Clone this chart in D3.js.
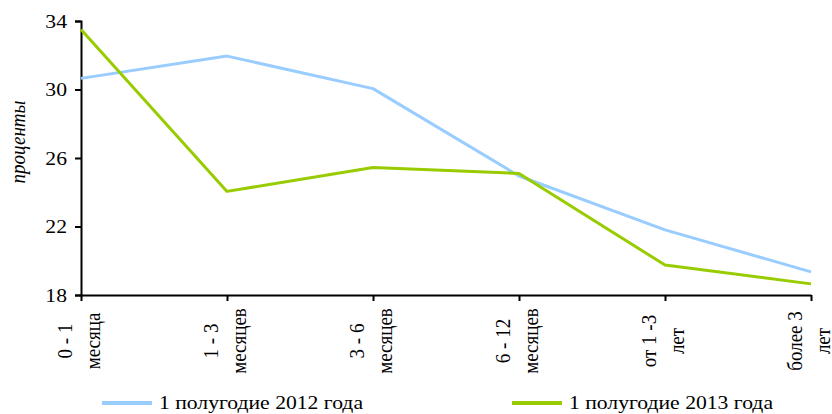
<!DOCTYPE html>
<html>
<head>
<meta charset="utf-8">
<script src="https://cdn.jsdelivr.net/npm/d3@7"></script>
<style>
  body { margin: 0; background: #fff; }
  svg text { font-family: "Liberation Serif", "Times New Roman", serif; fill: #000; }
</style>
</head>
<body>
<div class="js-chart"></div>
<script>
(function() {
  'use strict';

  /* ------------------------------------------------------------ *\
      Data
  \* ------------------------------------------------------------ */

  var categories = ['0-1', '1-3', '3-6', '6-12', '1-3y', '3y+'];
  var categoryLabels = [
    ['0 - 1', 'месяца'],
    ['1 - 3', 'месяцев'],
    ['3 - 6', 'месяцев'],
    ['6 - 12', 'месяцев'],
    ['от 1 -3', 'лет'],
    ['более 3', 'лет']
  ];
  var series2012 = [30.65, 31.95, 30.05, 24.95, 21.8, 19.35];
  var series2013 = [33.5, 24.05, 25.45, 25.1, 19.75, 18.65];
  var seriesNames = ['1 полугодие 2012 года', '1 полугодие 2013 года'];
  var yTicks = [18, 22, 26, 30, 34];
  var yTitle = 'проценты';

  /* ------------------------------------------------------------ *\
      Layout
  \* ------------------------------------------------------------ */

  var width = 832;
  var height = 414;
  var plotLeft = 81;
  var plotRight = 811;
  var plotTop = 21;
  var plotBottom = 295;
  var fontSize = 19;
  var stretch = 1.14;
  var blueColour = '#99ccff';
  var greenColour = '#99cc00';

  var svg = d3.select('.js-chart')
    .append('svg')
    .attr('width', width)
    .attr('height', height);

  var x = d3.scalePoint()
    .domain(categories)
    .range([plotLeft, plotRight])
    .padding(0);

  var y = d3.scaleLinear()
    .domain([18, 34])
    .range([plotBottom, plotTop]);

  /* ------------------------------------------------------------ *\
      Axes
  \* ------------------------------------------------------------ */

  var yAxis = svg.append('g')
    .attr('transform', 'translate(' + plotLeft + ',0)')
    .call(d3.axisLeft(y).tickValues(yTicks).tickSize(6).tickFormat(''));

  yAxis.selectAll('line, path')
    .attr('stroke', '#000')
    .attr('stroke-width', 2);

  svg.selectAll('.y-label')
    .data(yTicks)
    .enter()
    .append('text')
    .attr('class', 'y-label')
    .attr('transform', function(d) {
      return 'translate(67,' + y(d) + ') scale(' + stretch + ',1)';
    })
    .attr('dy', '0.35em')
    .attr('text-anchor', 'end')
    .style('font-size', fontSize + 'px')
    .text(function(d) { return d; });

  var xAxis = svg.append('g')
    .attr('transform', 'translate(0,' + plotBottom + ')')
    .call(d3.axisBottom(x).tickSize(6).tickSizeOuter(0).tickFormat(''));

  xAxis.selectAll('line, path')
    .attr('stroke', '#000')
    .attr('stroke-width', 2);

  var xLabels = svg.selectAll('.x-label')
    .data(categories)
    .enter()
    .append('text')
    .attr('class', 'x-label')
    .attr('transform', function(d) {
      return 'translate(' + x(d) + ',341) rotate(-90) scale(1,' + stretch + ')';
    })
    .attr('text-anchor', 'middle')
    .style('font-size', fontSize + 'px');

  xLabels.append('tspan')
    .attr('x', 0)
    .attr('y', -8)
    .text(function(d, i) { return categoryLabels[i][0]; });

  xLabels.append('tspan')
    .attr('x', 0)
    .attr('y', 16.5)
    .text(function(d, i) { return categoryLabels[i][1]; });

  svg.append('text')
    .attr('transform', 'translate(25,142) rotate(-90) scale(1,' + stretch + ')')
    .attr('text-anchor', 'middle')
    .style('font-size', fontSize + 'px')
    .style('font-style', 'italic')
    .text(yTitle);

  /* ------------------------------------------------------------ *\
      Lines
  \* ------------------------------------------------------------ */

  var line = d3.line()
    .x(function(d, i) { return x(categories[i]); })
    .y(function(d) { return y(d); });

  svg.append('path')
    .attr('d', line(series2012))
    .attr('fill', 'none')
    .attr('stroke', blueColour)
    .attr('stroke-width', 3)
    .attr('stroke-linejoin', 'round');

  svg.append('path')
    .attr('d', line(series2013))
    .attr('fill', 'none')
    .attr('stroke', greenColour)
    .attr('stroke-width', 3)
    .attr('stroke-linejoin', 'round');

  /* ------------------------------------------------------------ *\
      Legend
  \* ------------------------------------------------------------ */

  var legendItems = [
    { name: seriesNames[0], colour: blueColour, x: 102 },
    { name: seriesNames[1], colour: greenColour, x: 512 }
  ];

  var legend = svg.selectAll('.legend')
    .data(legendItems)
    .enter()
    .append('g')
    .attr('class', 'legend')
    .attr('transform', function(d) { return 'translate(' + d.x + ',403)'; });

  legend.append('line')
    .attr('x1', 0)
    .attr('x2', 50)
    .attr('stroke', function(d) { return d.colour; })
    .attr('stroke-width', 4);

  legend.append('text')
    .attr('transform', 'translate(57,0) scale(' + stretch + ',1)')
    .attr('dy', '0.33em')
    .style('font-size', fontSize + 'px')
    .text(function(d) { return d.name; });
})();
</script>
</body>
</html>
